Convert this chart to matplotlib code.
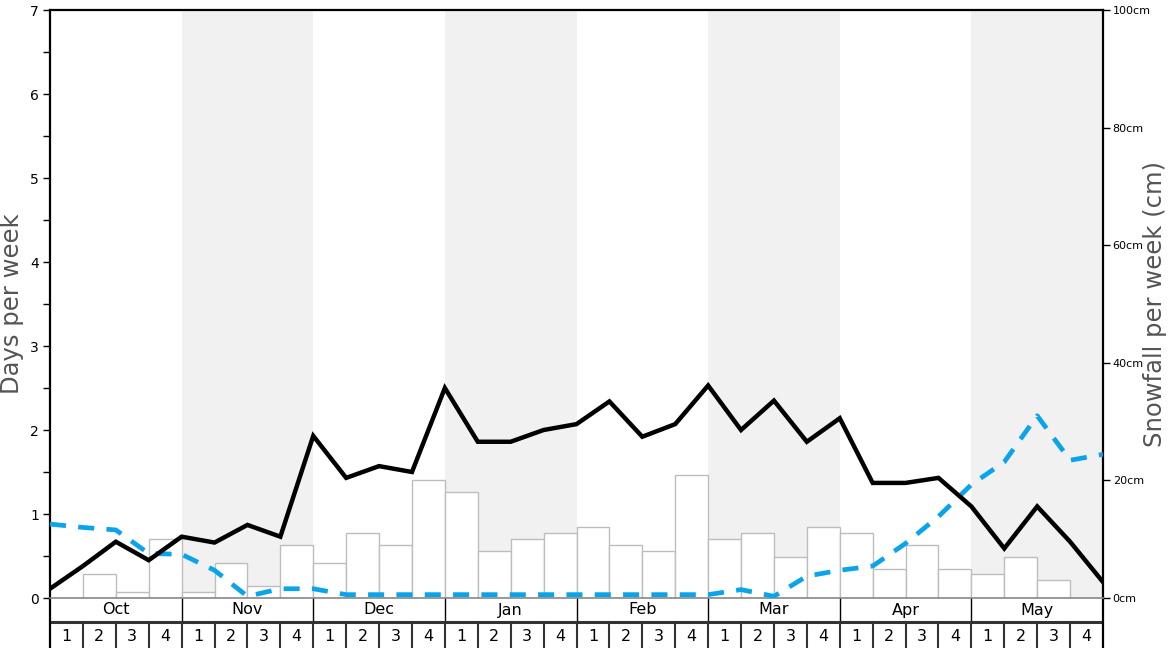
import matplotlib
matplotlib.use("Agg")
import matplotlib.pyplot as plt
import numpy as np

months = ["Oct", "Nov", "Dec", "Jan", "Feb", "Mar", "Apr", "May"]
week_labels = ["1", "2", "3", "4"]

# snowfall per week (cm), one per week
snowfall_cm = [0, 4, 1, 10, 1, 6, 2, 9,
               6, 11, 9, 20, 18, 8, 10, 11,
               12, 9, 8, 21, 10, 11, 7, 12,
               11, 5, 9, 5, 4, 7, 3, 0]

# days per week lines (values at week boundaries)
black_days = [0.11, 0.38, 0.67, 0.45, 0.73, 0.66, 0.87, 0.73,
              1.93, 1.43, 1.57, 1.50, 2.50, 1.86, 1.86, 2.00,
              2.07, 2.34, 1.92, 2.07, 2.53, 2.00, 2.35, 1.86,
              2.14, 1.37, 1.37, 1.43, 1.09, 0.59, 1.09, 0.67, 0.19]
blue_days = [0.88, 0.84, 0.81, 0.53, 0.52, 0.33, 0.02, 0.11,
             0.11, 0.04, 0.04, 0.04, 0.04, 0.04, 0.04, 0.04,
             0.04, 0.04, 0.04, 0.04, 0.04, 0.10, 0.02, 0.26,
             0.33, 0.38, 0.65, 0.97, 1.35, 1.62, 2.17, 1.64, 1.71]

W, H = 1168, 648
fig = plt.figure(figsize=(W / 100, H / 100), dpi=100)
L, R, T, B = 50, 1103, 10, 598
ax = fig.add_axes([L / W, (H - B) / H, (R - L) / W, (B - T) / H])
ax2 = ax.twinx()
tax = fig.add_axes([L / W, 0, (R - L) / W, (H - B) / H])

nweeks = len(snowfall_cm)
ax.set_xlim(0, nweeks)
ax2.set_xlim(0, nweeks)
ax.set_ylim(0, 7)
ax2.set_ylim(0, 100)

ax.set_zorder(ax2.get_zorder() + 1)
ax.patch.set_visible(False)

# alternating month shading
for m in range(len(months)):
    if m % 2 == 1:
        ax2.axvspan(m * 4, m * 4 + 4, color="#f1f1f1", lw=0, zorder=0)

x_centers = np.arange(nweeks) + 0.5
ax2.bar(x_centers, snowfall_cm, width=1.0, facecolor="white",
        edgecolor="#bdbdbd", linewidth=1.0, zorder=1)

xb = np.arange(nweeks + 1)
ax.plot(xb, blue_days, color="#0aa4ea", lw=3.4, linestyle=(0, (3.4, 2.6)),
        solid_capstyle="butt", dash_capstyle="butt", zorder=3)
ax.plot(xb, black_days, color="black", lw=3.2, solid_joinstyle="miter", zorder=4)

# spines
for s in ["left", "top"]:
    ax.spines[s].set_linewidth(1.6)
    ax.spines[s].set_color("black")
ax.spines["right"].set_visible(False)
ax.spines["bottom"].set_color("#888888")
ax.spines["bottom"].set_linewidth(1.2)
for s in ["left", "top", "bottom"]:
    ax2.spines[s].set_visible(False)
ax2.spines["right"].set_linewidth(1.6)
ax2.spines["right"].set_color("black")

ax.set_xticks([])
ax2.set_xticks([])
ax.set_yticks(range(0, 8))
ax.set_yticks(np.arange(0.5, 7, 1.0), minor=True)
ax.tick_params(axis="y", which="both", length=5, width=1, direction="out",
               labelsize=10, pad=3)
ax2.set_yticks(range(0, 101, 20))
ax2.set_yticklabels([f"{v}cm" for v in range(0, 101, 20)])
ax2.tick_params(axis="y", length=5, width=1, direction="out", labelsize=8, pad=2)

fig.text(12 / W, 1 - 304 / H, "Days per week", rotation=90, ha="center",
         va="center", fontsize=17.5, color="#555555")
fig.text(1155 / W, 1 - 304 / H, "Snowfall per week (cm)", rotation=90,
         ha="center", va="center", fontsize=17.5, color="#555555")

# bottom table of months and weeks
tax.set_xlim(0, nweeks)
tax.set_ylim(0, 2)
tax.set_xticks([])
tax.set_yticks([])
tax.spines["top"].set_visible(False)
tax.spines["bottom"].set_visible(False)
for s in ["left", "right"]:
    tax.spines[s].set_linewidth(1.6)
    tax.spines[s].set_color("black")
tax.axhline(1.04, color="#333333", lw=2.2)
for m, name in enumerate(months):
    tax.text(m * 4 + 2, 1.52, name, ha="center", va="center", fontsize=11.5)
    if m > 0:
        tax.plot([m * 4, m * 4], [1.04, 2], color="black", lw=1.0)
for w in range(nweeks):
    tax.text(w + 0.5, 0.45, week_labels[w % 4], ha="center", va="center", fontsize=11.5)
    if w > 0:
        tax.plot([w, w], [0, 1.04], color="#333333", lw=1.5)

fig.savefig("out.png", dpi=100)
